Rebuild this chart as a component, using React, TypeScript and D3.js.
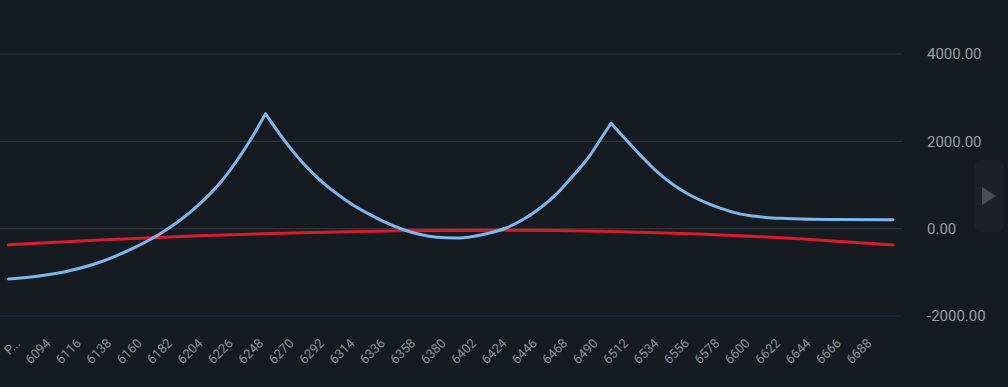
import React from 'react';
import * as d3 from 'd3';

// payoff curve: [price, value]
const payoff: [number, number][] = [
  [6072, -1152], [6094, -1085], [6116, -965], [6138, -770], [6160, -480],
  [6182, -110], [6204, 390], [6226, 1080], [6248, 2080], [6258, 2630],
  [6273, 1965], [6285, 1505], [6297, 1125], [6309, 815], [6321, 550],
  [6334, 315], [6346, 125], [6358, -25], [6370, -135], [6382, -195],
  [6396, -213], [6408, -178], [6420, -100], [6432, 15], [6444, 205],
  [6456, 455], [6468, 780], [6480, 1195], [6493, 1690], [6500, 2030],
  [6508, 2415], [6517, 2100], [6529, 1690], [6541, 1310], [6553, 1005],
  [6565, 770], [6577, 590], [6587, 470], [6596, 380], [6608, 300],
  [6620, 258], [6632, 236], [6645, 222], [6669, 210], [6712, 202],
];

// strikes where the payoff has a sharp corner
const cusps = [6258, 6508];

// second (red) series
const today: [number, number][] = [
  [6072, -370], [6138, -257], [6210, -160], [6283, -92], [6355, -50],
  [6428, -35], [6500, -57], [6572, -123], [6608, -172], [6644, -233],
  [6680, -305], [6712, -375],
];

const xTicks = [6094, 6116, 6138, 6160, 6182, 6204, 6226, 6248, 6270, 6292, 6314, 6336, 6358, 6380,
  6402, 6424, 6446, 6468, 6490, 6512, 6534, 6556, 6578, 6600, 6622, 6644, 6666, 6688];
const firstLabel = 'P...';
const yTicks = [-2000, 0, 2000, 4000];

const W = 1008;
const H = 387;

export default function App() {
  const x = d3.scaleLinear().domain([6072, 6712]).range([8.5, 893]);
  const y = d3.scaleLinear().domain([-2000, 4000]).range([316, 54]);

  const line = d3.line<[number, number]>()
    .x((d) => x(d[0]))
    .y((d) => y(d[1]))
    .curve(d3.curveMonotoneX);

  // split blue curve at the cusps so the corners stay sharp
  const segs: [number, number][][] = [];
  let cur: [number, number][] = [];
  payoff.forEach((p) => {
    cur.push(p);
    if (cusps.includes(p[0])) {
      segs.push(cur);
      cur = [p];
    }
  });
  segs.push(cur);
  const bluePath = segs.map((s) => line(s)).join('');

  return (
    <svg width={W} height={H} style={{ position: 'fixed', left: 0, top: 0, display: 'block' }}
      fontFamily="Roboto, 'Noto Sans', sans-serif">
      <rect width={W} height={H} fill="#161a21" />

      {/* grid */}
      {yTicks.map((t) => (
        <line key={t} x1={0} x2={902} y1={y(t)} y2={y(t)}
          stroke={t === -2000 ? '#1f3246' : '#31343a'} strokeWidth={1.2} />
      ))}

      {/* y labels */}
      {yTicks.map((t) => (
        <text key={'l' + t} x={927} y={y(t)} dy="0.35em" fill="#9a9ea5" fontSize={15}>
          {t.toFixed(2)}
        </text>
      ))}

      {/* x labels */}
      <text transform={`translate(${x(6072) + 12.5},344) rotate(-45)`} textAnchor="end"
        fill="#8e9299" fontSize={13}>{firstLabel}</text>
      {xTicks.map((t) => (
        <text key={'x' + t} transform={`translate(${x(t) + 12.5},344) rotate(-45)`} textAnchor="end"
          fill="#8e9299" fontSize={13}>{t}</text>
      ))}

      {/* series */}
      <path d={line(today) || ''} fill="none" stroke="#dc1a2c" strokeWidth={3} strokeLinecap="round" />
      <path d={bluePath} fill="none" stroke="#7fb6e8" strokeWidth={3} strokeLinecap="round"
        strokeLinejoin="miter" />

      {/* side toggle button */}
      <rect x={974} y={160} width={30} height={72} rx={6} fill="#1d2026" />
      <path d="M982,187 L996,196 L982,205 Z" fill="#4a4d53" />
    </svg>
  );
}
